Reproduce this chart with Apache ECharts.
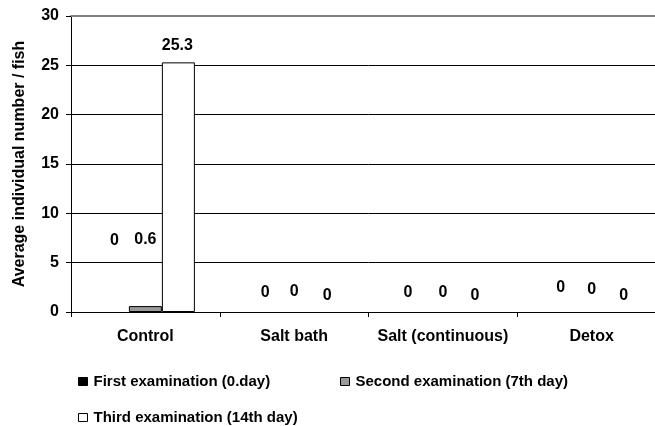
<!DOCTYPE html>
<html>
<head>
<meta charset="utf-8">
<script src="https://cdn.jsdelivr.net/npm/echarts@6/dist/echarts.min.js"></script>
<style>
html,body{margin:0;padding:0;background:#fff;overflow:hidden;width:655px;height:426px;}
#chart{width:666px;height:426px;}
</style>
</head>
<body>
<div id="chart"></div>
<script>
// ---- data ----
const categories = ['Control', 'Salt bath', 'Salt (continuous)', 'Detox'];
const seriesNames = ['First examination (0.day)', 'Second examination (7th day)', 'Third examination (14th day)'];
const firstExam = [0, 0, 0, 0];
const secondExam = [0.6, 0, 0, 0];
const thirdExam = [25.3, 0, 0, 0];
const yTicks = [0, 5, 10, 15, 20, 25, 30];

// ---- label placement (styling, not data) ----
const labelOffsets = [
  [[2, -63], [0, -58], [-1, -9]],
  [[4, -11], [0, -12], [0, -8]],
  [[-2, -11], [0, -11], [-1, -8]],
  [[2, -16], [0, -14], [-1, -8]]
];

const FONT = "'Liberation Sans', Arial, sans-serif";
const colors = ['#000000', '#999999', '#ffffff'];
const allData = [firstExam, secondExam, thirdExam];

const series = allData.map((arr, si) => ({
  name: seriesNames[si],
  type: 'bar',
  xAxisIndex: 0,
  barWidth: 33,
  barGap: '0%',
  itemStyle: { color: colors[si], borderColor: '#000', borderWidth: si === 0 ? 0 : 1 },
  emphasis: { disabled: true },
  data: arr.map((v, ci) => ({
    value: v,
    itemStyle: v === 0 ? { borderWidth: 0 } : undefined,
    label: {
      show: true,
      position: 'top',
      distance: 0,
      offset: labelOffsets[ci][si],
      color: '#000',
      fontFamily: FONT,
      fontWeight: 'bold',
      fontSize: 16
    }
  }))
}));

const legendBase = {
  orient: 'horizontal',
  padding: 0,
  itemWidth: 9,
  itemHeight: 8,
  itemGap: 10,
  icon: 'rect',
  selectedMode: false,
  textStyle: { fontFamily: FONT, fontWeight: 'bold', fontSize: 15, color: '#000', padding: [0, 0, 0, 1] },
  itemStyle: { borderColor: '#000', borderWidth: 1 }
};

const chart = echarts.init(document.getElementById('chart'), null, { renderer: 'canvas' });
chart.setOption({
  animation: false,
  backgroundColor: '#fff',
  grid: { left: 71, right: 0, top: 16, bottom: 114, containLabel: false },
  legend: [
    Object.assign({}, legendBase, { left: 78, top: 374, data: [seriesNames[0]] }),
    Object.assign({}, legendBase, { left: 340, top: 374, data: [seriesNames[1]] }),
    Object.assign({}, legendBase, { left: 78, top: 410, data: [seriesNames[2]] })
  ],
  xAxis: [{
    type: 'category',
    data: categories,
    axisLine: { show: true, lineStyle: { color: '#000', width: 1 } },
    axisTick: { show: true, alignWithLabel: false, length: 5, lineStyle: { color: '#000' } },
    axisLabel: { interval: 0, margin: 17, color: '#000', fontFamily: FONT, fontWeight: 'bold', fontSize: 16 },
    splitLine: { show: false }
  }, {
    type: 'category',
    position: 'top',
    data: categories,
    axisLine: { show: true, lineStyle: { color: '#808080', width: 2 } },
    axisTick: { show: false },
    axisLabel: { show: false },
    splitLine: { show: false }
  }],
  yAxis: {
    type: 'value',
    min: yTicks[0],
    max: yTicks[yTicks.length - 1],
    interval: 5,
    name: 'Average individual number / fish',
    nameLocation: 'middle',
    nameGap: 43,
    nameTextStyle: { color: '#000', fontFamily: FONT, fontWeight: 'bold', fontSize: 16 },
    axisLine: { show: true, lineStyle: { color: '#000', width: 1 } },
    axisTick: { show: true, length: 5, lineStyle: { color: '#000' } },
    axisLabel: { margin: 12, color: '#000', fontFamily: FONT, fontWeight: 'bold', fontSize: 16 },
    splitLine: { show: true, lineStyle: { color: '#000', width: 1 } }
  },
  series: series
});
</script>
</body>
</html>
